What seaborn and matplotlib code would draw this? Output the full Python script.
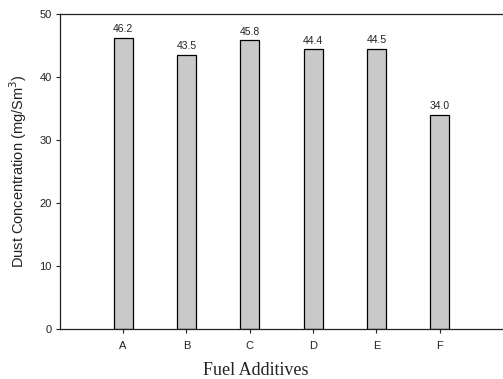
import matplotlib
matplotlib.use("Agg")
import matplotlib.pyplot as plt
import seaborn as sns
import pandas as pd

categories = ["A", "B", "C", "D", "E", "F"]
values = [46.2, 43.5, 45.8, 44.4, 44.5, 34.0]
labels = ["46.2", "43.5", "45.8", "44.4", "44.5", "34.0"]

sns.set_theme(style="white")
plt.rcParams['font.family'] = ['Liberation Sans', 'DejaVu Sans']

df = pd.DataFrame({"cat": categories, "val": values})

fig = plt.figure(figsize=(5.03, 3.79), dpi=100)
ax = fig.add_axes([0.119, 0.132, 0.881, 0.831])
sns.barplot(data=df, x="cat", y="val", ax=ax, color="#c9c9c9", width=0.3,
            edgecolor="black", linewidth=0.9, saturation=1)

for i, (v, t) in enumerate(zip(values, labels)):
    ax.text(i, v + 0.6, t, ha="center", va="bottom", fontsize=7.5, color="#222222")

ax.set_xlim(-1, 6)
ax.set_ylim(0, 50)
ax.set_yticks([0, 10, 20, 30, 40, 50])
ax.tick_params(axis="both", which="both", direction="out", length=3, width=0.8,
               colors="#222222", labelsize=8, bottom=True, left=True, pad=3)
ax.tick_params(axis="x", pad=6)
for s in ["left", "bottom", "top"]:
    ax.spines[s].set_visible(True)
    ax.spines[s].set_color("#222222")
    ax.spines[s].set_linewidth(0.9)
ax.spines["right"].set_visible(False)
ax.set_xlabel("Fuel Additives", family=["Liberation Serif", "DejaVu Serif"], fontsize=13,
              color="#222222")
ax.xaxis.set_label_coords(0.442, -0.105)
ax.set_ylabel("Dust Concentration (mg/Sm$^3$)", fontsize=10.5, color="#222222", labelpad=7)

fig.savefig("out.png", dpi=100)
